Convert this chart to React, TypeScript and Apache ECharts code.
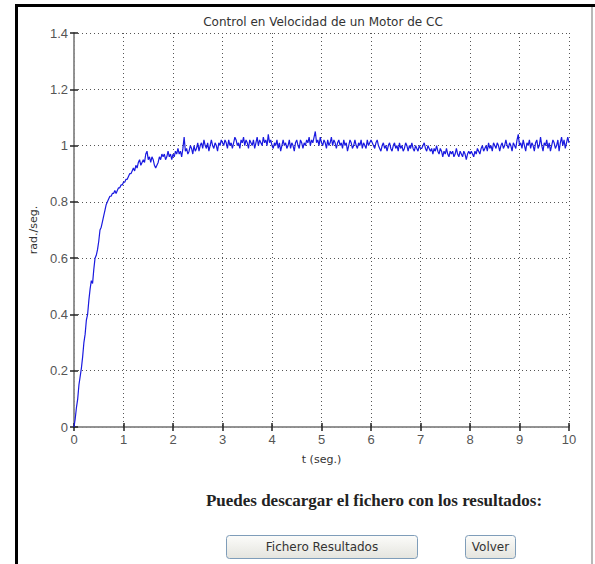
import React, { useEffect, useRef } from "react";
import * as echarts from "echarts";

const TITLE = "Control en Velocidad de un Motor de CC";
const X_NAME = "t (seg.)";
const Y_NAME = "rad./seg.";
const NOTE = "Puedes descargar el fichero con los resultados:";
const BUTTON_1 = "Fichero Resultados";
const BUTTON_2 = "Volver";

const X_MIN = 0;
const X_MAX = 10;
const X_INTERVAL = 1;
const Y_MIN = 0;
const Y_MAX = 1.4;
const Y_INTERVAL = 0.2;

// sampling step of the recorded signal (seconds)
const SAMPLE_STEP = 0.025;

// speed readings (rad./seg.), one array per second of recording
const speed0to1 = [
  0.0, 0.03, 0.07, 0.1, 0.15, 0.18, 0.21, 0.25, 0.3, 0.33,
  0.38, 0.4, 0.45, 0.49, 0.52, 0.51, 0.56, 0.6, 0.61, 0.63,
  0.66, 0.7, 0.71, 0.73, 0.75, 0.77, 0.79, 0.8, 0.81, 0.82,
  0.82, 0.83, 0.83, 0.84, 0.83, 0.84, 0.85, 0.85, 0.86, 0.86,
  0.87,
];
const speed1to2 = [
  0.87, 0.88, 0.88, 0.89, 0.9, 0.9, 0.91, 0.92, 0.91, 0.93,
  0.92, 0.94, 0.95, 0.93, 0.94, 0.95, 0.94, 0.97, 0.98, 0.95,
  0.96, 0.94, 0.96, 0.95, 0.93, 0.92, 0.93, 0.94, 0.96, 0.95,
  0.97, 0.96, 0.97, 0.95, 0.96, 0.98, 0.96, 0.97, 0.95, 0.97,
];
const speed2to3 = [
  0.96, 0.98, 0.97, 0.99, 0.97, 0.98, 0.96, 0.99, 1.03, 0.98,
  0.99, 0.97, 0.98, 1.0, 0.99, 0.97, 1.0, 0.98, 0.99, 1.01,
  0.98, 1.0, 1.01, 0.99, 1.02, 1.0, 0.99, 1.01, 0.98, 1.0,
  1.02, 1.0, 0.99, 1.01, 1.0, 0.98, 1.01, 1.0, 1.02, 1.01,
];
const speed3to4 = [
  1.0, 1.02, 1.01, 0.99, 1.02, 1.0, 1.01, 0.99, 1.01, 1.03,
  1.02, 1.0, 1.01, 0.99, 1.02, 1.01, 1.03, 1.0, 1.02, 1.01,
  0.99, 1.02, 1.01, 1.0, 1.02, 0.99, 1.01, 1.03, 1.0, 1.02,
  1.01, 1.0, 1.03, 1.01, 1.02, 1.0, 1.04, 1.01, 1.02, 1.0,
];
const speed4to5 = [
  0.99, 1.01, 1.0, 1.02, 0.99, 1.01, 0.98, 1.0, 1.02, 1.0,
  1.01, 0.99, 1.0, 1.02, 0.99, 1.01, 1.0, 0.98, 1.01, 1.02,
  1.0, 0.99, 1.02, 1.01, 0.99, 1.01, 1.0, 1.02, 1.01, 1.03,
  1.0, 1.02, 1.01, 1.03, 1.05, 1.01, 1.02, 1.0, 1.03, 1.01,
];
const speed5to6 = [
  1.0, 1.02, 1.01, 0.99, 1.02, 1.0, 1.01, 1.03, 1.0, 1.02,
  1.01, 0.99, 1.01, 1.02, 1.0, 1.01, 0.99, 1.02, 1.0, 1.01,
  0.98, 1.0, 1.02, 1.01, 0.99, 1.0, 1.02, 1.0, 0.99, 1.01,
  1.0, 1.02, 0.99, 1.01, 1.0, 0.99, 1.02, 1.0, 1.01, 1.02,
];
const speed6to7 = [
  1.01, 1.0, 0.99, 1.01, 1.02, 1.0, 0.99, 0.98, 1.0, 1.01,
  0.99, 1.0, 0.98, 1.0, 1.01, 0.99, 0.98, 1.0, 1.01, 0.99,
  1.0, 0.98, 1.01, 0.99, 1.0, 0.98, 0.99, 1.01, 1.0, 0.98,
  1.0, 0.99, 1.01, 0.99, 0.98, 1.0, 0.99, 0.98, 1.0, 0.99,
];
const speed7to8 = [
  0.99, 1.0, 1.01, 0.99, 0.98, 1.0, 0.99, 0.98, 0.99, 0.97,
  0.99, 0.98, 1.0, 0.98, 0.97, 0.99, 0.98, 0.96, 0.98, 0.97,
  0.99, 0.97, 0.96, 0.98, 0.97, 0.98, 0.96, 0.97, 0.99, 0.97,
  0.96, 0.98, 0.97, 0.96, 0.98, 0.97, 0.95, 0.97, 0.98, 0.97,
];
const speed8to9 = [
  0.98, 0.97, 0.96, 0.98, 0.97, 0.99, 0.98, 0.97, 0.99, 1.0,
  0.98, 0.99, 1.0, 0.98, 1.01, 0.99, 1.0, 0.98, 1.01, 1.0,
  0.99, 1.01, 1.0, 0.98, 1.0, 1.01, 0.99, 1.0, 1.02, 1.0,
  0.99, 1.01, 1.0, 0.98, 1.01, 1.0, 0.99, 1.02, 1.04, 1.0,
];
const speed9to10 = [
  1.01, 0.99, 1.02, 1.0, 0.98, 1.01, 1.0, 1.02, 0.99, 1.01,
  1.0, 0.98, 1.01, 1.02, 0.99, 1.0, 1.03, 1.0, 0.98, 1.01,
  1.0, 1.02, 0.99, 1.01, 0.98, 1.0, 1.02, 1.01, 0.99, 1.0,
  1.02, 0.98, 1.01, 1.03, 1.0, 1.02, 0.99, 1.01, 1.03, 1.01,
];

export default function App() {
  const ref = useRef<HTMLDivElement>(null);

  useEffect(() => {
    if (!ref.current) return;
    const chart = echarts.init(ref.current, null, { renderer: "svg" });

    const speed = [
      ...speed0to1, ...speed1to2, ...speed2to3, ...speed3to4, ...speed4to5,
      ...speed5to6, ...speed6to7, ...speed7to8, ...speed8to9, ...speed9to10,
    ];
    const data = speed.map((v, i) => [+(i * SAMPLE_STEP).toFixed(3), v]);

    const font = "Liberation Sans";
    const wide = "DejaVu Sans";
    const axisLine = { show: true, lineStyle: { color: "#8c8c8c", width: 1.5 } };
    const tick = { show: true, inside: true, length: 4, lineStyle: { color: "#222", width: 1.5 } };
    const grid = { show: true, lineStyle: { color: "#555", width: 1, type: [1, 3] as any } };

    const btnFill = new echarts.graphic.LinearGradient(0, 0, 0, 1, [
      { offset: 0, color: "#fcfcfa" },
      { offset: 1, color: "#e4e4de" },
    ]);

    chart.setOption({
      animation: false,
      backgroundColor: "#ffffff",
      title: {
        text: TITLE,
        left: 318,
        top: 11,
        textAlign: "center",
        textStyle: { fontFamily: wide, fontSize: 12, fontWeight: "normal", color: "#333" },
      },
      grid: { left: 74, top: 33, right: 26, bottom: 137, containLabel: false },
      xAxis: [
        {
          type: "value",
          min: X_MIN,
          max: X_MAX,
          interval: X_INTERVAL,
          name: X_NAME,
          nameLocation: "middle",
          nameGap: 27,
          nameTextStyle: { fontFamily: wide, fontSize: 11, color: "#333" },
          axisLine,
          axisTick: tick,
          axisLabel: { fontFamily: font, fontSize: 13, color: "#555", margin: 6 },
          splitLine: grid,
        },
        {
          type: "value",
          position: "top",
          min: X_MIN,
          max: X_MAX,
          interval: X_INTERVAL,
          axisLine,
          axisTick: tick,
          axisLabel: { show: false },
          splitLine: { show: false },
        },
      ],
      yAxis: [
        {
          type: "value",
          min: Y_MIN,
          max: Y_MAX,
          interval: Y_INTERVAL,
          name: Y_NAME,
          nameLocation: "middle",
          nameGap: 32,
          nameRotate: 90,
          nameTextStyle: { fontFamily: wide, fontSize: 11, color: "#333" },
          axisLine,
          axisTick: tick,
          axisLabel: { fontFamily: font, fontSize: 13, color: "#555", margin: 6 },
          splitLine: grid,
        },
        {
          type: "value",
          position: "right",
          min: Y_MIN,
          max: Y_MAX,
          interval: Y_INTERVAL,
          axisLine,
          axisTick: tick,
          axisLabel: { show: false },
          splitLine: { show: false },
        },
      ],
      series: [
        {
          type: "line",
          data,
          showSymbol: false,
          symbol: "none",
          lineStyle: { color: "#1a1ae0", width: 1.2 },
          xAxisIndex: 0,
          yAxisIndex: 0,
        },
      ],
      graphic: [
        { type: "rect", shape: { x: 15, y: 4, width: 3, height: 560 }, style: { fill: "#000" } },
        { type: "rect", shape: { x: 15, y: 4, width: 580, height: 3 }, style: { fill: "#000" } },
        { type: "line", shape: { x1: 592, y1: 7, x2: 592, y2: 564 }, style: { stroke: "#a0a0a0", lineWidth: 1.5 } },
        {
          type: "text",
          x: 374,
          y: 500,
          style: {
            text: NOTE,
            fontFamily: "Liberation Serif",
            fontWeight: "bold",
            fontSize: 17,
            fill: "#222",
            align: "center",
            verticalAlign: "middle",
          },
        },
        {
          type: "rect",
          shape: { x: 226.5, y: 535.5, width: 191, height: 23, r: 3 },
          style: { fill: btnFill, stroke: "#7f9db9", lineWidth: 1 },
        },
        {
          type: "text",
          x: 322,
          y: 547,
          style: { text: BUTTON_1, fontFamily: wide, fontSize: 12, fill: "#333", align: "center", verticalAlign: "middle" },
        },
        {
          type: "rect",
          shape: { x: 465.5, y: 535.5, width: 50, height: 23, r: 3 },
          style: { fill: btnFill, stroke: "#7f9db9", lineWidth: 1 },
        },
        {
          type: "text",
          x: 490.5,
          y: 547,
          style: { text: BUTTON_2, fontFamily: wide, fontSize: 12, fill: "#333", align: "center", verticalAlign: "middle" },
        },
      ],
    });

    return () => chart.dispose();
  }, []);

  return (
    <div style={{ position: "absolute", left: 0, top: 0, width: 595, height: 564, background: "#fff" }}>
      <div ref={ref} style={{ width: 595, height: 564 }} />
    </div>
  );
}
